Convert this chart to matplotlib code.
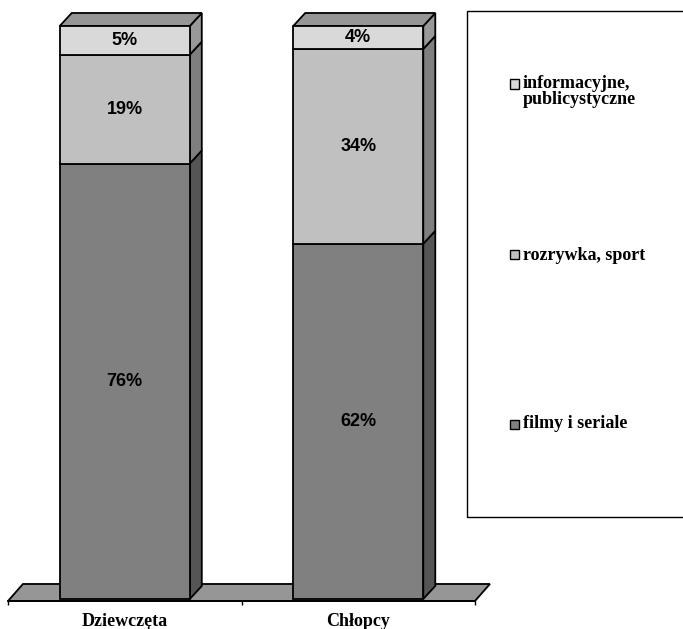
import matplotlib.pyplot as plt
from matplotlib.patches import Polygon, Rectangle

# ── Daten ──────────────────────────────────────────────────────────────────
categories = ["Dziewczęta", "Chłopcy"]
series_names = ["filmy i seriale", "rozrywka, sport", "informacyjne,\npublicystyczne"]
filmy = [76, 62]
rozrywka = [19, 34]
informacyjne = [5, 4]
values = [filmy, rozrywka, informacyjne]

front_colors = ["#808080", "#c0c0c0", "#d9d9d9"]
side_colors = ["#555555", "#7f7f7f", "#999999"]
top_color = "#969696"
floor_color = "#969696"

W, H = 683, 629
fig = plt.figure(figsize=(W / 100, H / 100), dpi=100)
ax = fig.add_axes([8 / W, (H - 601) / H, 467 / W, 575 / H])
ax.set_xlim(-0.5, 1.5)
ax.set_ylim(-0.35, 100)

bar_w = 0.557
dx, dy = 0.0514, 2.27      # Tiefe der Säulen
fdx, fdy = 0.064, 2.97     # Tiefe des Bodens
lw = 1.3

# ── Boden ──────────────────────────────────────────────────────────────────
y0 = ax.get_ylim()[0]
floor = Polygon([(-0.5, y0), (1.5, y0), (1.5 + fdx, y0 + fdy), (-0.5 + fdx, y0 + fdy)],
                closed=True, facecolor=floor_color, edgecolor="black",
                linewidth=lw, clip_on=False, zorder=1)
ax.add_patch(floor)

# ── Säulen ─────────────────────────────────────────────────────────────────
for i, cat in enumerate(categories):
    x0 = i - bar_w / 2
    x1 = i + bar_w / 2
    bottom = 0
    for s, vals in enumerate(values):
        v = vals[i]
        ax.add_patch(Rectangle((x0, bottom), bar_w, v, facecolor=front_colors[s],
                               edgecolor="black", linewidth=lw, clip_on=False, zorder=3))
        ax.add_patch(Polygon([(x1, bottom), (x1 + dx, bottom + dy),
                              (x1 + dx, bottom + v + dy), (x1, bottom + v)],
                             closed=True, facecolor=side_colors[s], edgecolor="black",
                             linewidth=lw, clip_on=False, zorder=2))
        ax.text(i, bottom + v / 2, f"{v}%", ha="center", va="center",
                fontsize=13, fontweight="bold", family="Liberation Sans", zorder=5)
        bottom += v
    ax.add_patch(Polygon([(x0, bottom), (x1, bottom), (x1 + dx, bottom + dy),
                          (x0 + dx, bottom + dy)],
                         closed=True, facecolor=top_color, edgecolor="black",
                         linewidth=lw, clip_on=False, zorder=2))

# ── Achse ──────────────────────────────────────────────────────────────────
for side in ["left", "top", "right"]:
    ax.spines[side].set_visible(False)
ax.spines["bottom"].set_linewidth(lw)
ax.set_yticks([])
ax.set_xticks([-0.5, 0.5, 1.5])
ax.set_xticklabels([])
ax.tick_params(axis="x", which="major", direction="out", length=3, width=1)
ax.set_xticks(range(len(categories)), minor=True)
ax.set_xticklabels(categories, minor=True, fontsize=13, fontweight="bold",
                   family="Liberation Serif")
ax.tick_params(axis="x", which="minor", length=0, pad=9)
ax.set_facecolor("none")

# ── Legende ────────────────────────────────────────────────────────────────
def fx(px):
    return px / W

def fy(py):
    return 1 - py / H

fig.add_artist(Rectangle((fx(467), fy(517)), fx(700) - fx(467), (517 - 11) / H,
                         transform=fig.transFigure, fill=False,
                         edgecolor="black", linewidth=1))
legend_y = [424, 255, 84]
for name, color, yc in zip(series_names, front_colors, legend_y):
    fig.add_artist(Rectangle((fx(510), fy(yc + 4.5)), 9 / W, 9 / H,
                             transform=fig.transFigure, facecolor=color,
                             edgecolor="black", linewidth=1))
    if "\n" in name:
        fig.text(fx(523), fy(yc - 9), name, ha="left", va="top", fontsize=13,
                 fontweight="bold", family="Liberation Serif", linespacing=0.95)
    else:
        fig.text(fx(523), fy(yc), name, ha="left", va="center", fontsize=13,
                 fontweight="bold", family="Liberation Serif")

fig.savefig("out.png", dpi=100, facecolor="white")
